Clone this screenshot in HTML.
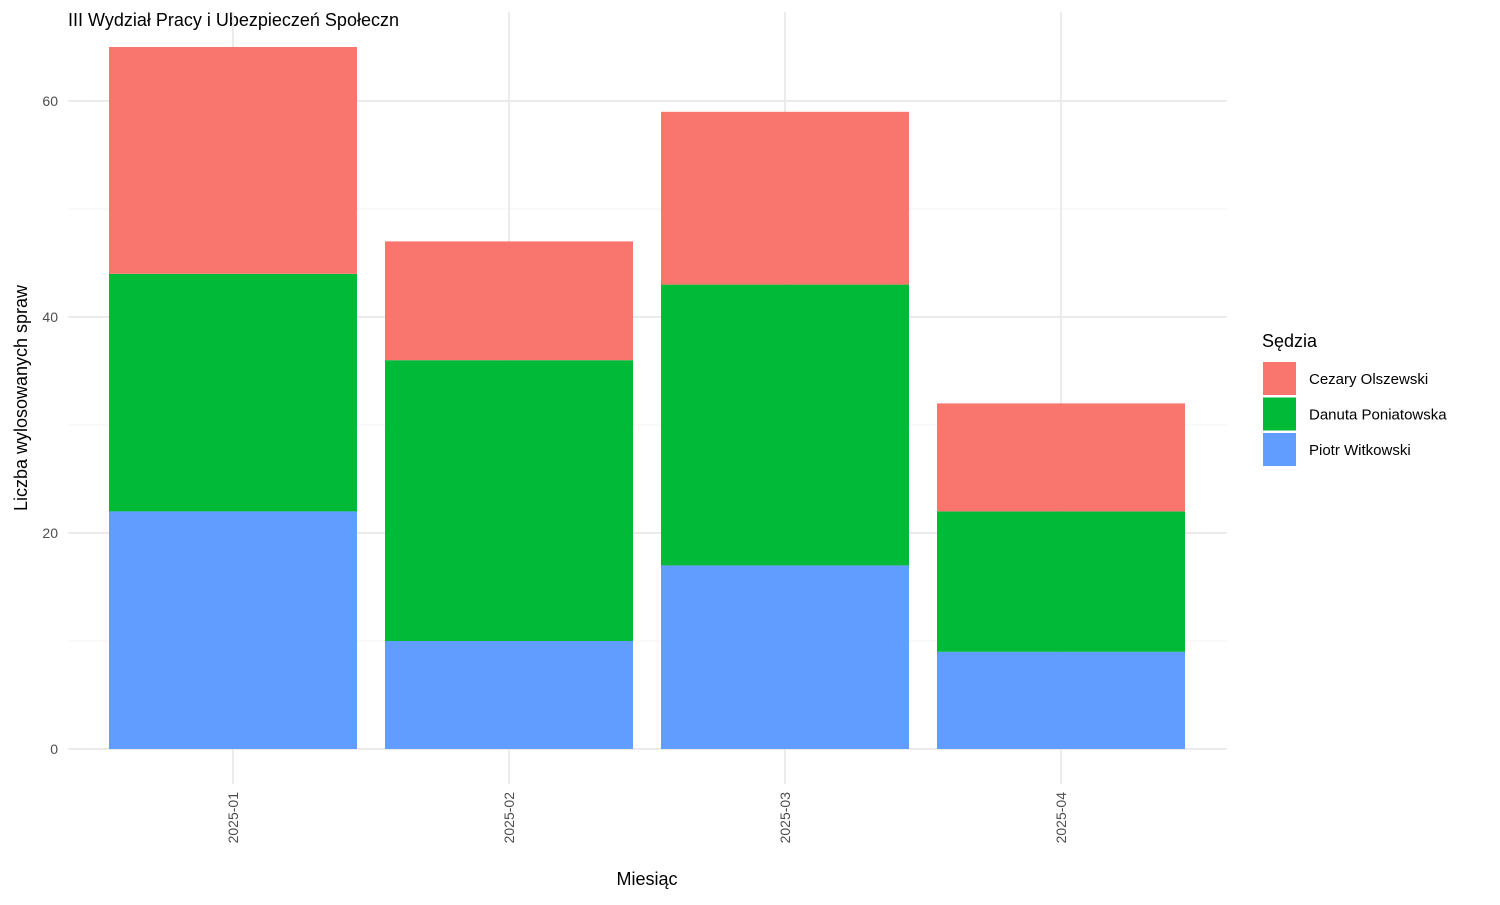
<!DOCTYPE html>
<html><head><meta charset="utf-8"><style>
body{margin:0;background:#fff;}
svg text{font-family:"Liberation Sans",sans-serif;}
</style></head><body>
<svg width="1500" height="900" id="chart">
<text x="68" y="26" font-size="18" fill="#000">III Wydział Pracy i Ubezpieczeń Społeczn</text>
<g id="grid"></g><g id="bars"></g><g id="axes"></g>
<text x="647" y="885" font-size="18" text-anchor="middle">Miesiąc</text>
<text transform="translate(27,398) rotate(-90)" font-size="18" text-anchor="middle">Liczba wylosowanych spraw</text>
<g id="legend">
<text x="1262" y="347" font-size="18">Sędzia</text>
</g>
</svg>
<script>
const categories=["2025-01","2025-02","2025-03","2025-04"];
const seriesNames=["Piotr Witkowski","Danuta Poniatowska","Cezary Olszewski"];
const piotr=[22,10,17,9];
const danuta=[22,26,26,13];
const cezary=[21,11,16,10];
const yTicks=[0,20,40,60];
const yMinor=[10,30,50];
const colors=["#619CFF","#00BA38","#F8766D"];
const series=[piotr,danuta,cezary];
const NS="http://www.w3.org/2000/svg";
const y=v=>749-v*10.8;
const x=i=>233+i*276;
const bw=248;
function mk(tag,attrs,parent,txt){const e=document.createElementNS(NS,tag);for(const k in attrs)e.setAttribute(k,attrs[k]);if(txt!==undefined)e.textContent=txt;document.getElementById(parent).appendChild(e);return e;}
yMinor.forEach(v=>{const l=mk('line',{x1:68,x2:1227,y1:y(v),y2:y(v),stroke:'#f3f3f3','stroke-width':1},'grid');

});
yTicks.forEach(v=>{const l=mk('line',{x1:68,x2:1227,y1:y(v),y2:y(v),stroke:'#ebebeb','stroke-width':2},'grid');


const t=mk('text',{x:58,y:y(v)+5,'font-size':14,fill:'#4d4d4d','text-anchor':'end'},'axes',v);

});
categories.forEach((c,i)=>{const l=mk('line',{x1:x(i),x2:x(i),y1:12,y2:784,stroke:'#ebebeb','stroke-width':2},'grid');


const t=mk('text',{transform:`translate(${x(i)+5},792) rotate(-90)`,'font-size':14,fill:'#4d4d4d','text-anchor':'end'},'axes',c);


let base=0;
series.forEach((s,k)=>{const r=mk('rect',{x:x(i)-bw/2,width:bw,y:y(base+s[i]),height:s[i]*10.8,fill:colors[k]},'bars');


base+=s[i];});});
const order=[2,1,0];
order.forEach((k,j)=>{const r=mk('rect',{x:1263,y:362+j*35.5,width:33,height:33,fill:colors[k]},'legend');


const t=mk('text',{x:1309,y:384+j*35.5,'font-size':15},'legend',seriesNames[k]);

});
</script>
</body></html>
